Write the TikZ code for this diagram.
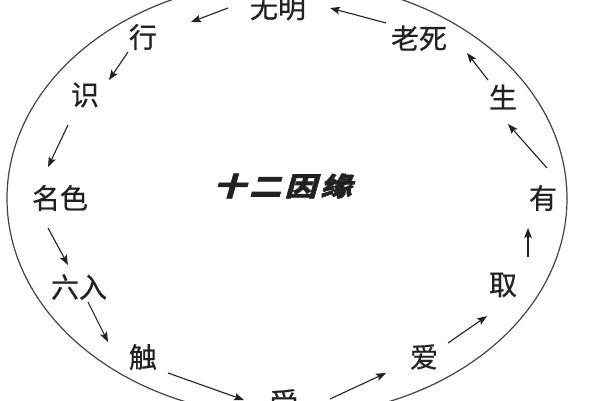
\documentclass[tikz,border=0pt]{standalone}
\usepackage{fontspec}
\usetikzlibrary{arrows.meta}
\newfontfamily\cjkfont{Noto Sans CJK SC}[FakeBold=0.6]
\newfontfamily\titlefont{Noto Sans CJK SC}[FakeSlant=0.28,FakeStretch=1.22,LetterSpace=14,BoldFeatures={FakeBold=2.5}]
\definecolor{ink}{HTML}{222222}
\definecolor{rim}{HTML}{444444}
\begin{document}
\begin{tikzpicture}[x=1pt,y=-1pt,
  lbl/.style={inner sep=0pt,text=ink,font=\cjkfont\fontsize{28}{28}\selectfont},
  arr/.style={draw=ink,line width=1.1pt,-{Stealth[length=10pt,width=7.5pt,inset=2pt]}}]
\useasboundingbox (0,0) rectangle (600,400);
\fill[white] (0,0) rectangle (600,400);
\draw[rim,line width=1.2pt] (287,198.5) ellipse [x radius=280, y radius=218];
\node[inner sep=0pt,text=ink,font=\titlefont\bfseries\fontsize{26}{26}\selectfont] (title) at (283,186) {十二因缘};
\node[lbl] (wm) at (278,8) {无明};
\node[lbl] (xing) at (143,37) {行};
\node[lbl] (shi) at (85,95) {识};
\node[lbl] (ms) at (60,198) {名色};
\node[lbl] (lr) at (79,287) {六入};
\node[lbl] (chu) at (143,357) {触};
\node[lbl] (shou) at (284,402) {受};
\node[lbl] (ai) at (424,357) {爱};
\node[lbl] (qu) at (503,285) {取};
\node[lbl] (you) at (543,198) {有};
\node[lbl] (sheng) at (503,97) {生};
\node[lbl] (ls) at (419,38) {老死};
\draw[arr] ([shift={(-50,0)}]wm.center) -- ([shift={(48,-15)}]xing.center);
\draw[arr] ([shift={(-15,15)}]xing.center) -- ([shift={(24,-15)}]shi.center);
\draw[arr] ([shift={(-17,30)}]shi.center) -- ([shift={(-12,-31)}]ms.center);
\draw[arr] ([shift={(-12,30)}]ms.center) -- ([shift={(-11,-22)}]lr.center);
\draw[arr] ([shift={(9,15)}]lr.center) -- ([shift={(-35,-15)}]chu.center);
\draw[arr] ([shift={(25,16)}]chu.center) -- ([shift={(-40,-2)}]shou.center);
\draw[arr] ([shift={(46,-3)}]shou.center) -- ([shift={(-38,16)}]ai.center);
\draw[arr] ([shift={(24,-14)}]ai.center) -- ([shift={(-16,31)}]qu.center);
\draw[arr] ([shift={(25,-28)}]qu.center) -- ([shift={(-15,30)}]you.center);
\draw[arr] ([shift={(4,-30)}]you.center) -- ([shift={(5,27)}]sheng.center);
\draw[arr] ([shift={(-15,-17)}]sheng.center) -- ([shift={(48,15)}]ls.center);
\draw[arr] ([shift={(-33,-15)}]ls.center) -- ([shift={(52,0)}]wm.center);
\end{tikzpicture}
\end{document}
